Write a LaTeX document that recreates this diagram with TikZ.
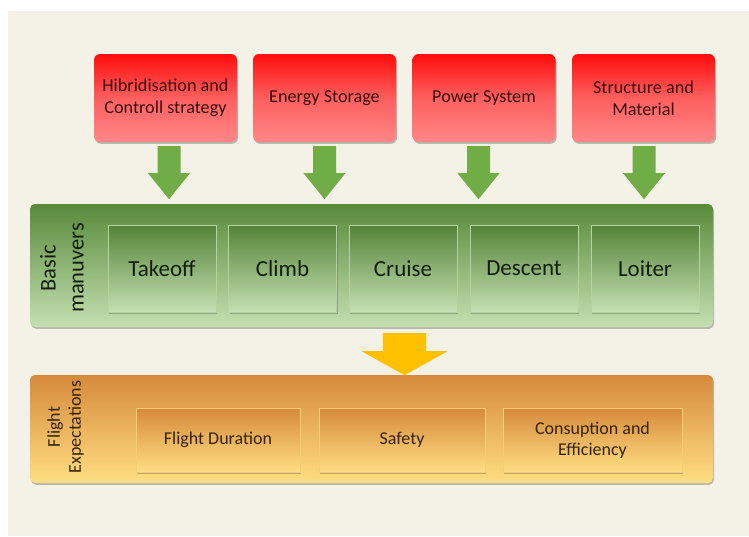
\documentclass[tikz,border=0pt]{standalone}
\usepackage{fontspec}
\setmainfont{Carlito}
\usetikzlibrary{shadows,calc}
\definecolor{bgbeige}{RGB}{244,241,230}
\definecolor{redtop}{RGB}{255,12,12}
\definecolor{redmid}{RGB}{255,95,95}
\definecolor{redbot}{RGB}{255,135,135}
\definecolor{greentop}{RGB}{88,138,58}
\definecolor{greenbot}{RGB}{197,224,178}
\definecolor{greenarrow}{RGB}{112,173,71}
\definecolor{orangetop}{RGB}{214,138,60}
\definecolor{orangebot}{RGB}{255,222,130}
\definecolor{orangearrow}{RGB}{255,192,0}
\definecolor{redtext}{RGB}{55,12,12}
\definecolor{greentext}{RGB}{18,30,12}
\definecolor{orangetext}{RGB}{55,35,12}
\tikzset{
  shad/.style={drop shadow={shadow xshift=1pt,shadow yshift=-1.8pt,opacity=0.35,fill=black!70}},
  redbox/.style={rectangle,rounded corners=6pt,minimum width=143pt,minimum height=88pt,
    top color=redtop,bottom color=redbot,middle color=redmid,shad,align=center,
    text=redtext,font=\fontsize{18.2}{22}\selectfont,inner sep=0pt},
  greenpanel/.style={rectangle,rounded corners=5pt,top color=greentop,bottom color=greenbot,shad},
  greenbox/.style={rectangle,minimum width=108pt,minimum height=87pt,top color=greentop!95!black,
    bottom color=greenbot,draw=greenbot!85!greentop,line width=0.5pt,shad,
    text=greentext,font=\fontsize{23}{28}\selectfont,inner sep=0pt},
  orangepanel/.style={rectangle,rounded corners=5pt,top color=orangetop,bottom color=orangebot,shad},
  orangebox/.style={rectangle,minimum height=64pt,top color=orangetop,
    bottom color=orangebot,draw=orangebot!80!orangetop,line width=0.5pt,shad,align=center,
    text=orangetext,font=\fontsize{18}{21.5}\selectfont,inner sep=0pt},
  sidelabel/.style={rotate=90,align=center,inner sep=0pt},
}
% fat down arrow: #1 top coordinate, #2 shaft half width, #3 head half width, #4 shaft length, #5 head length, #6 colour
\newcommand\fatdown[6]{%
  \fill[#6] ($(#1)+(-#2,0)$) -- ($(#1)+(#2,0)$) -- ($(#1)+(#2,#4)$) -- ($(#1)+(#3,#4)$)
    -- ($(#1)+(0,#4+#5)$) -- ($(#1)+(-#3,#4)$) -- ($(#1)+(-#2,#4)$) -- cycle;}
\begin{document}
\begin{tikzpicture}[x=1pt,y=-1pt]
\useasboundingbox (0,0) rectangle (749,536);
\fill[white] (0,0) rectangle (749,536);
\fill[bgbeige] (8,11) rectangle (749,536);

% top red boxes
\node[redbox] (r1) at (165.5,98) {Hibridisation and\\Controll strategy};
\node[redbox] (r2) at (324.5,98) {Energy Storage};
\node[redbox] (r3) at (484,98) {Power System};
\node[redbox] (r4) at (643.5,98) {Structure and\\Material};

% green panel
\node[greenpanel,minimum width=683pt,minimum height=123pt] (gp) at (371.5,265.5) {};
\node[sidelabel,text=greentext,font=\fontsize{22.5}{28}\selectfont] (bm) at (62,268) {Basic\\manuvers};
\node[greenbox] (g1) at (162,268.5) {Takeoff};
\node[greenbox] (g2) at (282.5,268.5) {Climb};
\node[greenbox] (g3) at (403,268.5) {Cruise};
\node[greenbox] (g4) at (524,268.5) {Descent};
\node[greenbox] (g5) at (645,268.5) {Loiter};

% green arrows
\coordinate (a1) at ($(r1.south)+(3.5,4)$);
\coordinate (a2) at ($(r2.south)+(0,4)$);
\coordinate (a3) at ($(r3.south)+(-5.5,4)$);
\coordinate (a4) at ($(r4.south)+(0.5,4)$);
\fatdown{a1}{11.5}{21}{27}{26}{greenarrow}
\fatdown{a2}{11.5}{21}{27}{26}{greenarrow}
\fatdown{a3}{11.5}{21}{27}{26}{greenarrow}
\fatdown{a4}{11.5}{21}{27}{26}{greenarrow}

% orange panel
\node[orangepanel,minimum width=683pt,minimum height=108pt] (op) at (371.5,429) {};
\node[sidelabel,text=orangetext,font=\fontsize{18}{21}\selectfont] (fe) at (65.5,427) {Flight\\Expectations};
\node[orangebox,minimum width=164pt] (o1) at (218,440) {Flight Duration};
\node[orangebox,minimum width=166pt] (o2) at (402,440) {Safety};
\node[orangebox,minimum width=179pt] (o3) at (592.5,440) {Consuption and\\Efficiency};

% orange arrow
\coordinate (oa) at ($(gp.south)+(33,6)$);
\fatdown{oa}{21.5}{43}{18}{24}{orangearrow}
\end{tikzpicture}
\end{document}
